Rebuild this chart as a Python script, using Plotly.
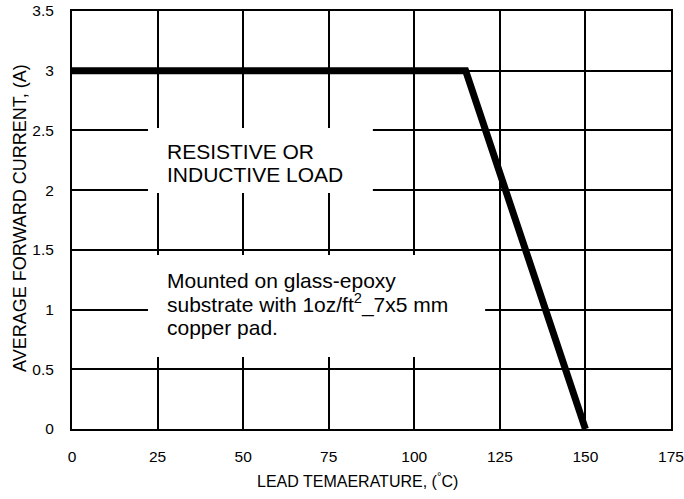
import plotly.graph_objects as go

# Derating curve data
lead_temp = [0, 115, 150]
avg_current = [3, 3, 0]

x_ticks = [0, 25, 50, 75, 100, 125, 150, 175]
y_ticks = [0, 0.5, 1, 1.5, 2, 2.5, 3, 3.5]
y_tick_labels = ["0", "0.5", "1", "1.5", "2", "2.5", "3", "3.5"]

x_title = "LEAD TEMAERATURE, (<sup>°</sup>C)"
y_title = "AVERAGE FORWARD CURRENT, (A)"
note1_lines = ["RESISTIVE OR", "INDUCTIVE LOAD"]
note2_lines = ["Mounted on glass-epoxy", "substrate with 1oz/ft<sup>2</sup>_7x5 mm", "copper pad."]

FONT = "Liberation Sans, Arial, sans-serif"

fig = go.Figure()
fig.add_trace(go.Scatter(
    x=lead_temp, y=avg_current, mode="lines",
    line=dict(color="black", width=7),
    showlegend=False, hoverinfo="skip", cliponaxis=False,
))

# white boxes hiding gridlines behind the notes
fig.add_shape(type="rect", x0=22.2, x1=87.9, y0=1.977, y1=2.521,
              fillcolor="white", line=dict(width=0), layer="between")
fig.add_shape(type="rect", x0=22.2, x1=120.7, y0=0.603, y1=1.457,
              fillcolor="white", line=dict(width=0), layer="between")

note1_y = [2.324, 2.127]
for t, yy in zip(note1_lines, note1_y):
    fig.add_annotation(x=27.2, y=yy, text=t, showarrow=False, xanchor="left",
                       yanchor="middle", font=dict(family=FONT, size=21, color="black"))
note2_y = [1.24, 1.055, 0.854]
for t, yy in zip(note2_lines, note2_y):
    fig.add_annotation(x=27.2, y=yy, text=t, showarrow=False, xanchor="left",
                       yanchor="middle", font=dict(family=FONT, size=21, color="black"))

# axis titles
fig.add_annotation(xref="paper", yref="paper", x=0.477, y=0, yshift=-51,
                   text=x_title, showarrow=False, xanchor="center", yanchor="middle",
                   font=dict(family=FONT, size=16, color="black"))
fig.add_annotation(xref="paper", yref="paper", x=0, y=0.505, xshift=-52,
                   text=y_title, showarrow=False, textangle=-90,
                   xanchor="center", yanchor="middle",
                   font=dict(family=FONT, size=18, color="black"))

fig.update_layout(
    width=684, height=499,
    margin=dict(l=72, r=13, t=11, b=70, autoexpand=False),
    paper_bgcolor="white", plot_bgcolor="white",
    font=dict(family=FONT, color="black"),
    xaxis=dict(
        range=[0, 175], tickvals=x_ticks, ticktext=[str(v) for v in x_ticks],
        showgrid=True, gridcolor="black", gridwidth=2,
        showline=True, linecolor="black", linewidth=2, mirror=True,
        zeroline=False, ticks="", ticklabelstandoff=12, automargin=False,
        tickfont=dict(size=15.5),
    ),
    yaxis=dict(
        range=[0, 3.5], tickvals=y_ticks, ticktext=y_tick_labels,
        showgrid=True, gridcolor="black", gridwidth=2,
        showline=True, linecolor="black", linewidth=2, mirror=True,
        zeroline=False, ticks="", ticklabelstandoff=13, automargin=False,
        tickfont=dict(size=15.5),
    ),
)

fig.write_html("out.html", config={"displayModeBar": False},
               post_script="document.body.style.margin='0';document.body.style.overflow='hidden';")
